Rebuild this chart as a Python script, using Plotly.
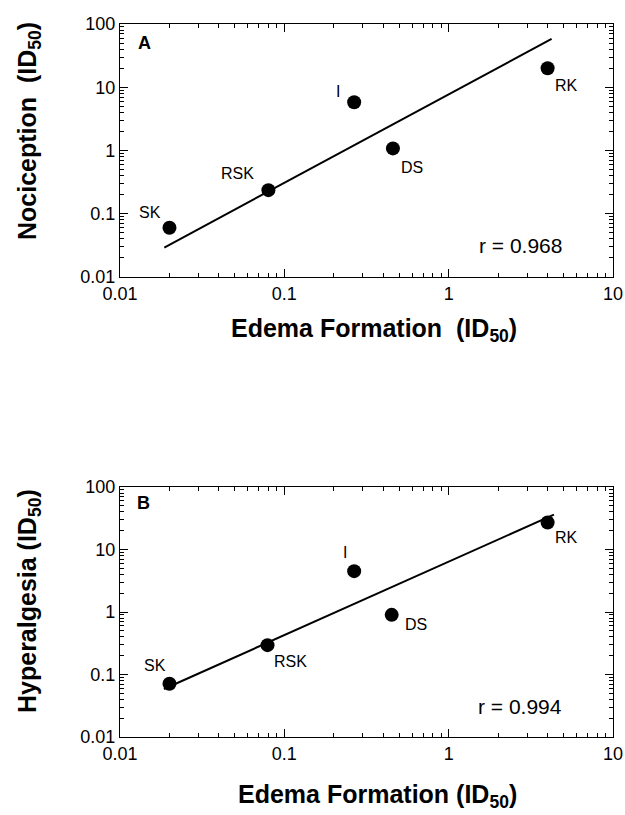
import numpy as np
import plotly.graph_objects as go

# ---- data ----
compounds = ["SK", "RSK", "I", "DS", "RK"]
edema_a = [0.020, 0.080, 0.266, 0.458, 4.0]
nociception = [0.060, 0.236, 5.8, 1.08, 20.0]
edema_b = [0.020, 0.079, 0.266, 0.45, 4.0]
hyperalgesia = [0.071, 0.295, 4.5, 0.90, 27.0]

fit_a_x = [0.0186, 4.23]
fit_a_y = [0.0292, 58.2]
fit_b_x = [0.0185, 4.37]
fit_b_y = [0.0586, 36.2]

r_a = "r = 0.968"
r_b = "r = 0.994"

tick_vals_x = [0.01, 0.1, 1, 10]
tick_text_x = ["0.01", "0.1", "1", "10"]
tick_vals_y = [0.01, 0.1, 1, 10, 100]
tick_text_y = ["0.01", "0.1", "1", "10", "100"]

# label pixel offsets (dx right, dy up)
offs_a = [(-19, 15), (-31, 17), (-16, 11), (19, -19), (19, -17)]
offs_b = [(-14, 18), (23, -16), (-9, 19), (24, -10), (19, -15)]

W, H = 625, 815
FONT = "Liberation Sans, Arial, sans-serif"

fig = go.Figure()

for xs, ys, fx, fy, xa, ya in [
    (edema_a, nociception, fit_a_x, fit_a_y, "x", "y"),
    (edema_b, hyperalgesia, fit_b_x, fit_b_y, "x2", "y2"),
]:
    fig.add_trace(go.Scatter(x=fx, y=fy, mode="lines",
                             line=dict(color="black", width=2),
                             xaxis=xa, yaxis=ya, showlegend=False))
    fig.add_trace(go.Scatter(x=xs, y=ys, mode="markers",
                             marker=dict(color="black", size=14),
                             xaxis=xa, yaxis=ya, showlegend=False))

def axis_common():
    return dict(
        type="log", showline=True, linecolor="black", linewidth=1.2,
        mirror="allticks", ticks="inside", ticklen=8, tickwidth=1,
        tickcolor="black", showgrid=False, zeroline=False,
        tickfont=dict(family=FONT, size=18, color="black"),
        minor=dict(ticks="inside", ticklen=4, tickwidth=1, tickcolor="black",
                   dtick="D1", showgrid=False),
        automargin=False,
    )

L, R, T, B = 120, 12, 24, 78
PW, PH = W - L - R, H - T - B
def ydom(top, bottom):
    return [(H - B - bottom) / PH, (H - B - top) / PH]

ydom_a = ydom(24, 277)
ydom_b = ydom(487, 737)

fig.update_layout(
    width=W, height=H,
    margin=dict(l=L, r=R, t=T, b=B, autoexpand=False),
    paper_bgcolor="white", plot_bgcolor="white",
    xaxis=dict(**axis_common(), domain=[0, 1], range=[-2, 1], anchor="y",
               tickvals=tick_vals_x, ticktext=tick_text_x),
    yaxis=dict(**axis_common(), domain=ydom_a, range=[-2, 2], anchor="x",
               tickvals=tick_vals_y, ticktext=tick_text_y),
    xaxis2=dict(**axis_common(), domain=[0, 1], range=[-2, 1], anchor="y2",
                tickvals=tick_vals_x, ticktext=tick_text_x),
    yaxis2=dict(**axis_common(), domain=ydom_b, range=[-2, 2], anchor="x2",
                tickvals=tick_vals_y, ticktext=tick_text_y),
)

ann = []
for xs, ys, offs, xr, yr in [
    (edema_a, nociception, offs_a, "x", "y"),
    (edema_b, hyperalgesia, offs_b, "x2", "y2"),
]:
    for name, xv, yv, (dx, dy) in zip(compounds, xs, ys, offs):
        ann.append(dict(x=np.log10(xv), y=np.log10(yv), xref=xr, yref=yr,
                        text=name, showarrow=False, xshift=dx, yshift=dy,
                        font=dict(family=FONT, size=16, color="black")))

def px(x, y, text, size, bold=False, angle=0):
    return dict(x=(x - L) / PW, y=(H - B - y) / PH, xref="paper", yref="paper",
                text=f"<b>{text}</b>" if bold else text, showarrow=False,
                textangle=angle, xanchor="center", yanchor="middle",
                font=dict(family=FONT, size=size, color="black"))

ann += [
    px(144, 43, "A", 18, bold=True),
    px(143, 503, "B", 18, bold=True),
    px(520, 245, r_a, 21),
    px(520, 706, r_b, 21),
    px(374, 330, "Edema Formation  (ID<sub>50</sub>)", 25, bold=True),
    px(377, 796, "Edema Formation (ID<sub>50</sub>)", 25, bold=True),
    px(29, 131, "Nociception  (ID<sub>50</sub>)", 25, bold=True, angle=-90),
    px(29, 601, "Hyperalgesia (ID<sub>50</sub>)", 25, bold=True, angle=-90),
]
fig.update_layout(annotations=ann)

fig.write_html("out.html",
               config={"displayModeBar": False},
               post_script="document.body.style.margin='0';"
                           "document.body.style.overflow='hidden';")
